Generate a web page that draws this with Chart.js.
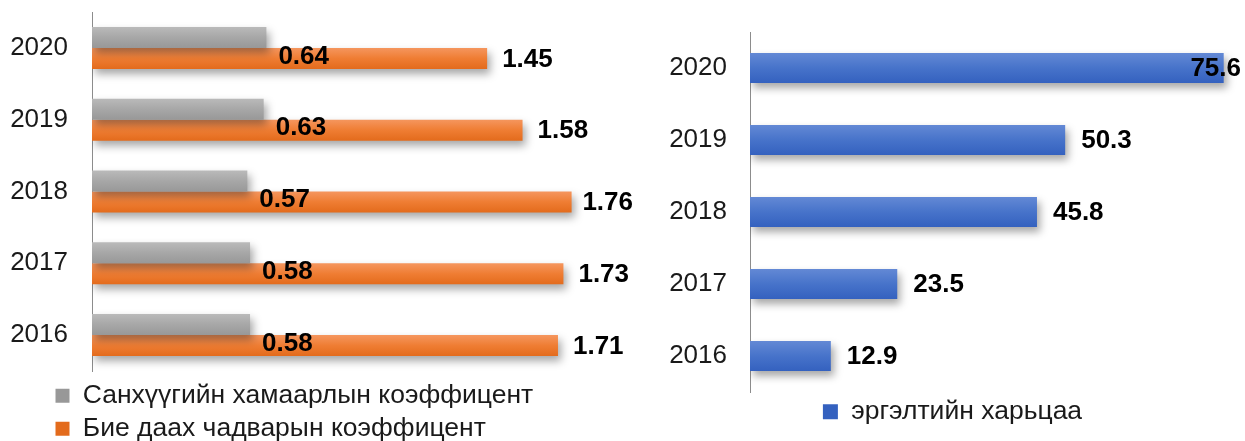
<!DOCTYPE html>
<html>
<head>
<meta charset="utf-8">
<script src="https://cdn.jsdelivr.net/npm/chart.js@4/dist/chart.umd.min.js"></script>
<style>
  html, body { margin: 0; padding: 0; background: #ffffff; overflow: hidden; }
  #wrapL { position: absolute; left: 0; top: 0; width: 637px; height: 441px; }
  #wrapR { position: absolute; left: 640px; top: 0; width: 605px; height: 441px; }
</style>
</head>
<body>
<div id="wrapL"><canvas id="left" width="637" height="441"></canvas></div>
<div id="wrapR"><canvas id="right" width="605" height="441"></canvas></div>
<script>
// ---- data ----
const years = ['2020', '2019', '2018', '2017', '2016'];
const seriesLeftNames = ['Санхүүгийн хамаарлын коэффицент', 'Бие даах чадварын коэффицент'];
const financialDependence = [0.64, 0.63, 0.57, 0.58, 0.58];
const selfSufficiency = [1.45, 1.58, 1.76, 1.73, 1.71];
const seriesRightName = 'эргэлтийн харьцаа';
const turnoverRatio = [75.6, 50.3, 45.8, 23.5, 12.9];

// ---- styling ----
const FONT = "'Liberation Sans', Arial, sans-serif";
Chart.defaults.font.family = FONT;
Chart.defaults.color = '#1a1a1a';

function gradientFill(stops, catPct, barPct, nBars) {
  return (c) => {
    if (c.type !== 'data') return stops[1];
    const ys = c.chart.scales.y;
    if (!ys || !ys.height) return stops[1];
    const n = ys.getLabels().length;
    const spacing = ys.height / n;
    const group = spacing * catPct;
    const slot = group / nBars;
    const h = slot * barPct;
    const i = nBars > 1 ? c.datasetIndex : 0;
    const top = ys.getPixelForValue(c.dataIndex) - group / 2 + i * slot + (slot - h) / 2;
    const g = c.chart.ctx.createLinearGradient(0, top, 0, top + h);
    g.addColorStop(0, stops[0]);
    g.addColorStop(0.5, stops[1]);
    g.addColorStop(1, stops[2]);
    return g;
  };
}

const shadowPlugin = {
  id: 'barShadow',
  beforeDatasetDraw(chart) {
    const ctx = chart.ctx;
    ctx.save();
    ctx.shadowColor = 'rgba(0,0,0,0.35)';
    ctx.shadowBlur = 8;
    ctx.shadowOffsetX = 3;
    ctx.shadowOffsetY = 5;
  },
  afterDatasetDraw(chart) {
    chart.ctx.restore();
  }
};

const legendShift = {
  id: 'legendShift',
  afterLayout(chart, args, opts) {
    if (chart.legend && typeof opts.left === 'number') {
      chart.legend.left = opts.left;
    }
  }
};

const valueLabels = {
  id: 'valueLabels',
  afterDatasetsDraw(chart, args, opts) {
    const ctx = chart.ctx;
    ctx.save();
    ctx.font = 'bold 26px ' + FONT;
    ctx.fillStyle = '#000000';
    ctx.textBaseline = 'middle';
    ctx.textAlign = 'left';
    chart.data.datasets.forEach((ds, di) => {
      const meta = chart.getDatasetMeta(di);
      const off = (opts.offsets && opts.offsets[di]) || { dx: 15, dy: 0 };
      meta.data.forEach((el, i) => {
        const text = ds.data[i].toFixed(opts.decimals);
        const w = ctx.measureText(text).width;
        let x = el.x + off.dx;
        if (x + w > chart.width - 4) x = chart.width - 4 - w;
        ctx.fillText(text, x, el.y + off.dy + 1);
      });
    });
    ctx.restore();
  }
};

const greyStops = ['#bababa', '#a7a7a7', '#989898'];
const orangeStops = ['#f5965e', '#ef7d33', '#e36b1c'];
const blueStops = ['#6389d5', '#4773ca', '#3461bf'];

function yAxis(width, pad) {
  return {
    grid: { display: false, drawTicks: false },
    border: { display: true, color: '#8c8c8c', width: 1 },
    ticks: { font: { size: 26 }, color: '#1a1a1a', padding: pad },
    afterFit: (s) => { s.width = width; s.paddingTop = 0; s.paddingBottom = 0; }
  };
}

// ---- left chart ----
const L_CAT = 0.585;
new Chart(document.getElementById('left'), {
  type: 'bar',
  data: {
    labels: years,
    datasets: [
      {
        label: seriesLeftNames[0],
        data: financialDependence,
        backgroundColor: gradientFill(greyStops, L_CAT, 1, 2),
        borderWidth: 0,
        categoryPercentage: L_CAT,
        barPercentage: 1
      },
      {
        label: seriesLeftNames[1],
        data: selfSufficiency,
        backgroundColor: gradientFill(orangeStops, L_CAT, 1, 2),
        borderWidth: 0,
        categoryPercentage: L_CAT,
        barPercentage: 1
      }
    ]
  },
  options: {
    indexAxis: 'y',
    responsive: false,
    animation: false,
    devicePixelRatio: 1,
    layout: { padding: { left: 0, right: 0, top: 12, bottom: -11 } },
    scales: {
      x: {
        min: 0, max: 2,
        grid: { display: false, drawTicks: false },
        border: { display: false },
        ticks: { display: false },
        afterFit: (s) => { s.height = 5; s.paddingLeft = 0; s.paddingRight = 0; }
      },
      y: yAxis(92, 24)
    },
    plugins: {
      tooltip: { enabled: false },
      legend: {
        position: 'bottom',
        align: 'start',
        labels: {
          font: { size: 26.5 },
          color: '#1a1a1a',
          boxWidth: 14,
          boxHeight: 14,
          padding: 6.5
        }
      },
      legendShift: { left: 49 },
      valueLabels: {
        decimals: 2,
        offsets: [{ dx: 12, dy: 18 }, { dx: 15, dy: 0 }]
      }
    }
  },
  plugins: [shadowPlugin, legendShift, valueLabels]
});

// ---- right chart ----
const R_BAR = 0.417;
new Chart(document.getElementById('right'), {
  type: 'bar',
  data: {
    labels: years,
    datasets: [
      {
        label: seriesRightName,
        data: turnoverRatio,
        backgroundColor: gradientFill(blueStops, 1, R_BAR, 1),
        borderWidth: 0,
        categoryPercentage: 1,
        barPercentage: R_BAR
      }
    ]
  },
  options: {
    indexAxis: 'y',
    responsive: false,
    animation: false,
    devicePixelRatio: 1,
    layout: { padding: { left: 0, right: 0, top: 32, bottom: 6 } },
    scales: {
      x: {
        display: false,
        min: 0, max: 79
      },
      y: yAxis(110, 23)
    },
    plugins: {
      tooltip: { enabled: false },
      legend: {
        position: 'bottom',
        align: 'center',
        labels: {
          font: { size: 26.5 },
          color: '#1a1a1a',
          boxWidth: 15,
          boxHeight: 15,
          padding: 6.5
        }
      },
      legendShift: { left: 20 },
      valueLabels: {
        decimals: 1,
        offsets: [{ dx: 16, dy: 0 }]
      }
    }
  },
  plugins: [shadowPlugin, legendShift, valueLabels]
});
</script>
</body>
</html>
